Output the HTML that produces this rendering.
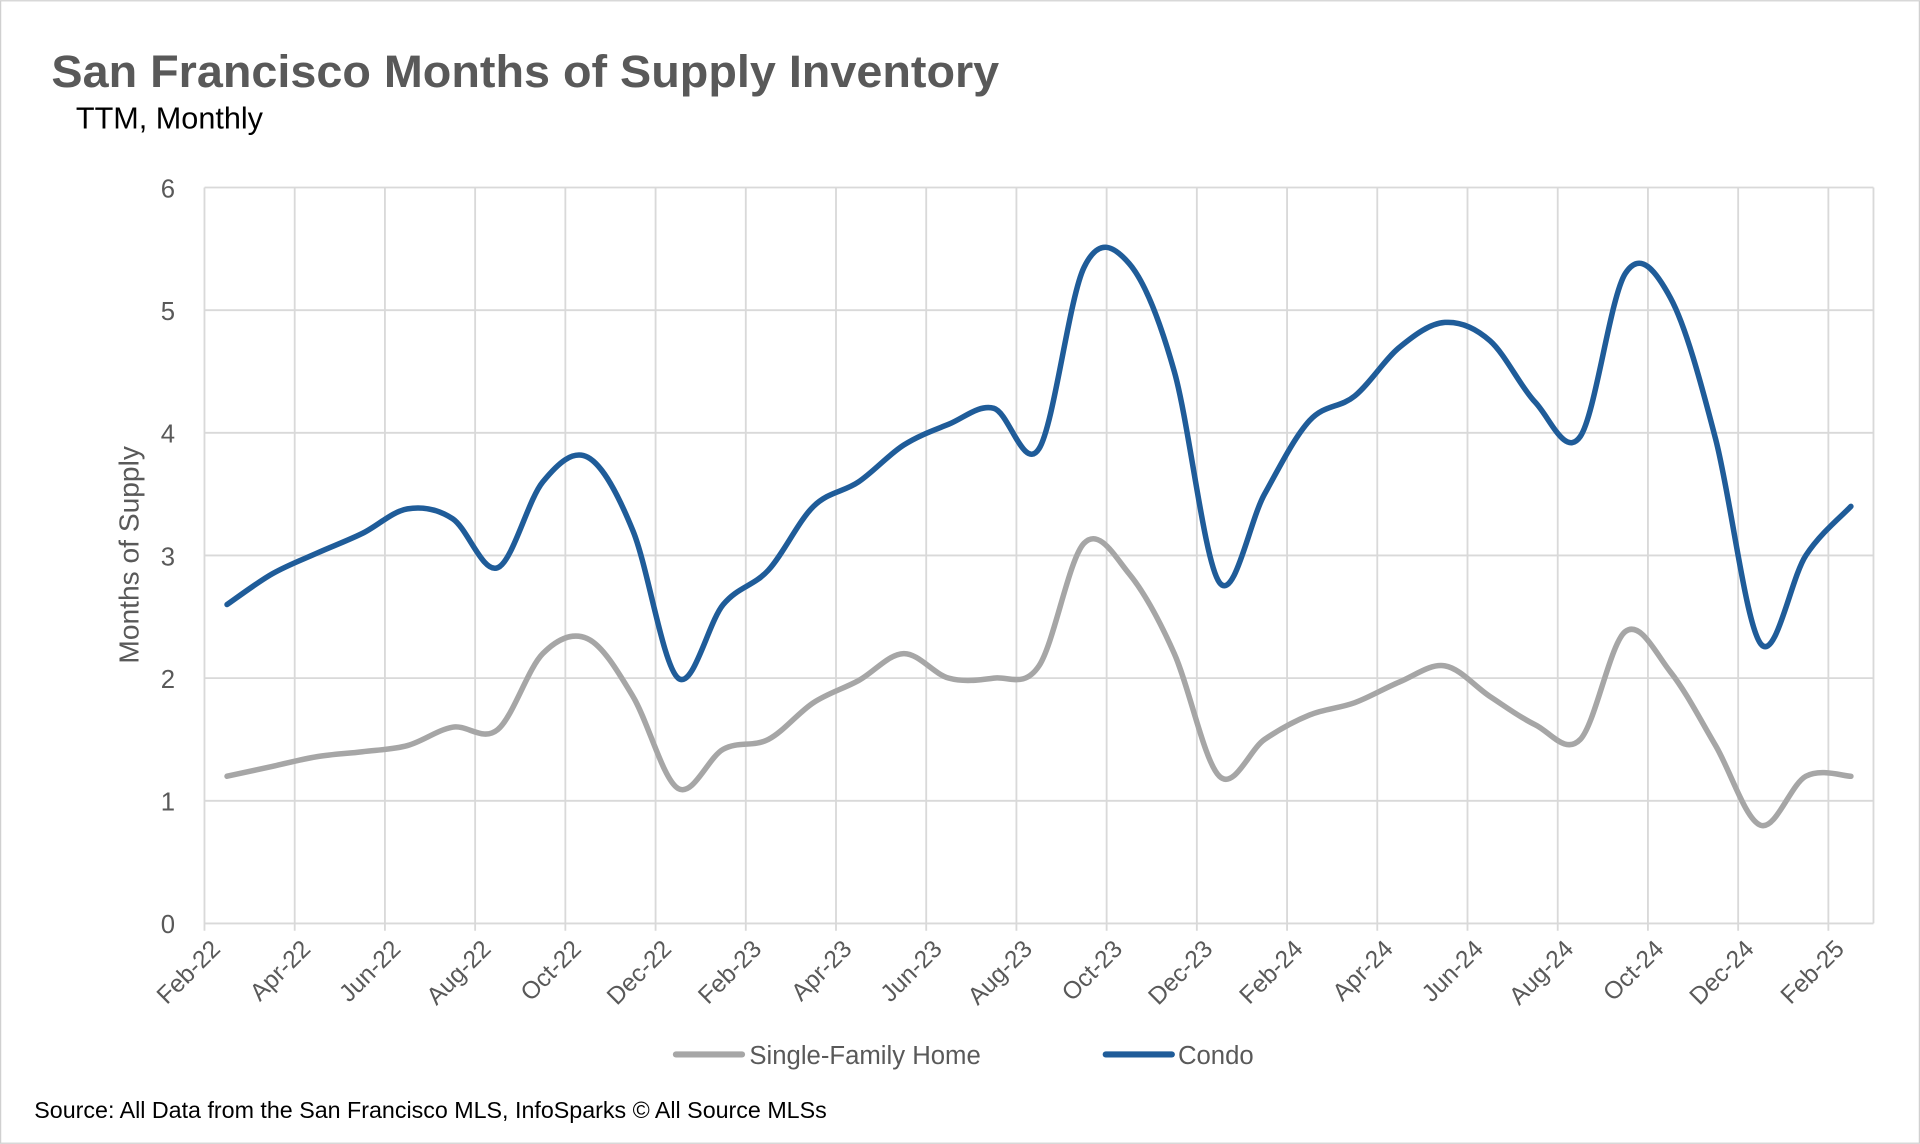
<!DOCTYPE html>
<html><head><meta charset="utf-8"><style>
html,body{margin:0;padding:0;background:#fff;}
svg{display:block;font-family:"Liberation Sans",sans-serif;}
</style></head><body>
<svg id="chart" width="1920" height="1144" viewBox="0 0 1568 934">
<rect x="0.5" y="0.5" width="1567" height="933" fill="#fff" stroke="#d0d0d0"/>
<text x="42" y="71" font-size="37" font-weight="bold" fill="#595959" textLength="774" lengthAdjust="spacingAndGlyphs">San Francisco Months of Supply Inventory</text>
<text x="62" y="105" font-size="25" fill="#000">TTM, Monthly</text>
<text transform="translate(113,453) rotate(-90)" text-anchor="middle" font-size="23" fill="#595959">Months of Supply</text>
<g id="grid"></g><g id="series"></g><g id="labels"></g>
<g>
<line x1="552" y1="861" x2="606" y2="861" stroke="#a6a6a6" stroke-width="5" stroke-linecap="round"/>
<text x="612" y="869" font-size="21" fill="#595959">Single-Family Home</text>
<line x1="903" y1="861" x2="957" y2="861" stroke="#1f5c99" stroke-width="5" stroke-linecap="round"/>
<text x="962" y="869" font-size="21" fill="#595959">Condo</text>
</g>
<text x="28" y="913" font-size="19" fill="#000">Source: All Data from the San Francisco MLS, InfoSparks © All Source MLSs</text>
</svg>
<script>
const months=["Feb-22","Mar-22","Apr-22","May-22","Jun-22","Jul-22","Aug-22","Sep-22","Oct-22","Nov-22","Dec-22","Jan-23","Feb-23","Mar-23","Apr-23","May-23","Jun-23","Jul-23","Aug-23","Sep-23","Oct-23","Nov-23","Dec-23","Jan-24","Feb-24","Mar-24","Apr-24","May-24","Jun-24","Jul-24","Aug-24","Sep-24","Oct-24","Nov-24","Dec-24","Jan-25","Feb-25"];
const condo=[2.6,2.85,3.02,3.18,3.38,3.3,2.9,3.6,3.8,3.2,2.0,2.6,2.88,3.4,3.6,3.9,4.07,4.2,3.87,5.35,5.38,4.5,2.78,3.5,4.1,4.3,4.7,4.9,4.75,4.25,3.97,5.3,5.1,3.95,2.28,3.0,3.4];
const sfh=[1.2,1.28,1.36,1.4,1.45,1.6,1.58,2.2,2.32,1.85,1.1,1.42,1.5,1.8,1.98,2.2,2.0,2.0,2.1,3.1,2.85,2.2,1.2,1.5,1.7,1.8,1.97,2.1,1.85,1.62,1.5,2.38,2.05,1.45,0.8,1.2,1.2];
const yTicks=[0,1,2,3,4,5,6];
const NS="http://www.w3.org/2000/svg";
const X0=167,X1=1530,Y0=754,Y1=153;
const step=(X1-X0)/months.length;
const xS=i=>X0+step*(i+0.5);
const yS=v=>Y0-(v/6)*(Y0-Y1);
function mk(t,a,p){const e=document.createElementNS(NS,t);for(const k in a)e.setAttribute(k,a[k]);p.appendChild(e);return e;}
const grid=document.getElementById('grid'),lab=document.getElementById('labels'),ser=document.getElementById('series');
yTicks.forEach(v=>{
 const l=mk('line',{x1:X0,x2:X1,y1:yS(v),y2:yS(v),stroke:'#d9d9d9','stroke-width':1.5},grid);
 
 
 const t=mk('text',{x:143,y:yS(v)+8,'text-anchor':'end','font-size':21,fill:'#595959'},lab);
 t.textContent=v;
 
 
});
months.forEach((m,i)=>{
 if(i%2) return;
 const gx=X0+step*i;
 const l=mk('line',{x1:gx,x2:gx,y1:Y1,y2:Y0+6,stroke:'#d9d9d9','stroke-width':1.5},grid);
 
 
 const t=mk('text',{transform:`translate(${gx+14},${Y0+22}) rotate(-45)`,'text-anchor':'end','font-size':20,fill:'#595959'},lab);
 t.textContent=m;
 
 
});
const rl=mk('line',{x1:X1,x2:X1,y1:Y1,y2:Y0,stroke:'#d9d9d9','stroke-width':1.5},grid);


function path(vals){
 const p=vals.map((v,i)=>[xS(i),yS(v)]);
 let d=`M${p[0][0]},${p[0][1]}`;
 for(let i=0;i<p.length-1;i++){
  const a=p[i-1]||p[i],b=p[i],c=p[i+1],e=p[i+2]||c;
  const c1=[b[0]+(c[0]-a[0])/6,b[1]+(c[1]-a[1])/6],c2=[c[0]-(e[0]-b[0])/6,c[1]-(e[1]-b[1])/6];
  d+=` C${c1[0]},${c1[1]} ${c2[0]},${c2[1]} ${c[0]},${c[1]}`;
 }
 return d;
}
const s1=mk('path',{d:path(sfh),fill:'none',stroke:'#a6a6a6','stroke-width':4.5,'stroke-linecap':'round'},ser);


const s2=mk('path',{d:path(condo),fill:'none',stroke:'#1f5c99','stroke-width':4.5,'stroke-linecap':'round'},ser);


</script>
</body></html>
